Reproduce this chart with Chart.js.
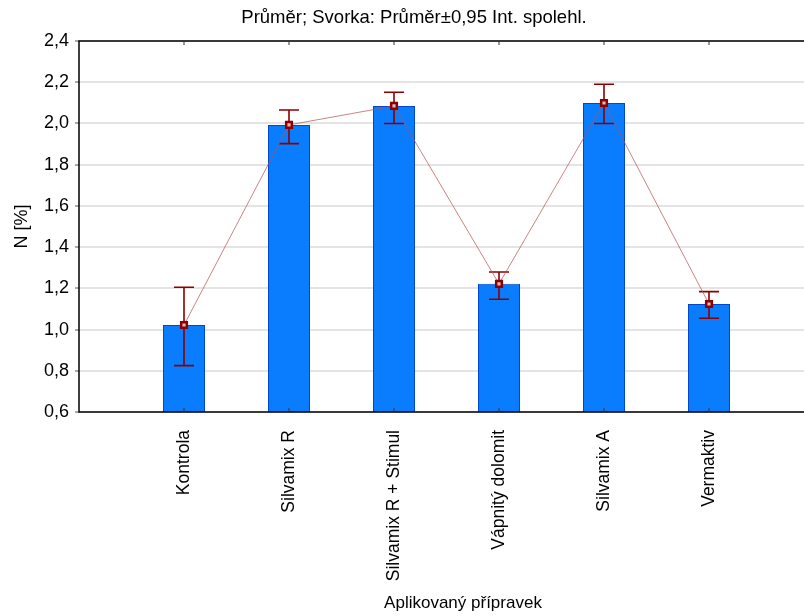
<!DOCTYPE html>
<html>
<head>
<meta charset="utf-8">
<script src="https://cdn.jsdelivr.net/npm/chart.js@4.4.1/dist/chart.umd.min.js"></script>
<style>
  html, body { margin: 0; padding: 0; background: #fff; overflow: hidden; }
  #wrap { width: 900px; height: 616px; }
</style>
</head>
<body>
<div id="wrap"><canvas id="myChart" width="900" height="616"></canvas></div>
<script>
// data (empty slot at both ends, like the original axis)
var categories = ['', 'Kontrola', 'Silvamix R', 'Silvamix R + Stimul', 'Vápnitý dolomit', 'Silvamix A', 'Vermaktiv', ''];
var means  = [null, 1.022, 1.993, 2.085, 1.222, 2.099, 1.124, null];
var ciLow  = [null, 0.825, 1.902, 2.000, 1.147, 2.000, 1.055, null];
var ciHigh = [null, 1.205, 2.065, 2.151, 1.279, 2.190, 1.184, null];
var yTicks = [0.6, 0.8, 1.0, 1.2, 1.4, 1.6, 1.8, 2.0, 2.2, 2.4];

var chartTitle = 'Průměr; Svorka: Průměr±0,95 Int. spolehl.';
var xTitle = 'Aplikovaný přípravek';
var yTitle = 'N [%]';

var fontName = '"Liberation Sans", Arial, sans-serif';

var chromePlugin = {
    id: 'chrome',
    beforeDatasetDraw: function (chart, args) {
        // error bars go under the line markers
        if (args.index !== 1) return;
        var ctx = chart.ctx;
        var ys = chart.scales.y;
        var meta = chart.getDatasetMeta(1);
        ctx.save();
        ctx.strokeStyle = '#8b0000';
        ctx.lineWidth = 1.6;
        for (var i = 0; i < means.length; i++) {
            if (means[i] == null) continue;
            var x = meta.data[i].x;
            var yl = ys.getPixelForValue(ciLow[i]);
            var yh = ys.getPixelForValue(ciHigh[i]);
            ctx.beginPath();
            ctx.moveTo(x, yl); ctx.lineTo(x, yh);
            ctx.moveTo(x - 10, yl); ctx.lineTo(x + 10, yl);
            ctx.moveTo(x - 10, yh); ctx.lineTo(x + 10, yh);
            ctx.stroke();
        }
        ctx.restore();
    },
    afterDraw: function (chart) {
        var ctx = chart.ctx;
        var a = chart.chartArea;
        var xs = chart.scales.x;
        ctx.save();
        // frame
        ctx.strokeStyle = '#000';
        ctx.lineWidth = 1.5;
        ctx.strokeRect(a.left, a.top, a.right - a.left, a.bottom - a.top);
        // inner ticks top and bottom
        ctx.lineWidth = 1;
        ctx.strokeStyle = '#333';
        ctx.beginPath();
        for (var i = 1; i < categories.length - 1; i++) {
            var x = xs.getPixelForValue(i);
            ctx.moveTo(x, a.top); ctx.lineTo(x, a.top + 4);
            ctx.moveTo(x, a.bottom); ctx.lineTo(x, a.bottom - 4);
        }
        ctx.stroke();
        // titles
        ctx.fillStyle = '#000';
        ctx.textAlign = 'center';
        ctx.textBaseline = 'middle';
        ctx.font = '18.5px ' + fontName;
        ctx.fillText(chartTitle, 414, 18);
        ctx.font = '17px ' + fontName;
        ctx.fillText(xTitle, 463, 603);
        ctx.restore();
    }
};

var ctx = document.getElementById('myChart').getContext('2d');
var myChart = new Chart(ctx, {
    type: 'bar',
    data: {
        labels: categories,
        datasets: [{
            type: 'bar',
            label: 'Průměr',
            data: means,
            backgroundColor: '#0a7dff',
            borderColor: '#0048c8',
            borderWidth: 1,
            barPercentage: 0.4,
            categoryPercentage: 1,
            order: 2
        }, {
            type: 'line',
            label: 'Průměr',
            data: means,
            borderColor: 'rgba(180, 80, 80, 0.7)',
            borderWidth: 1,
            pointStyle: 'rect',
            pointRadius: 4,
            pointBackgroundColor: '#e9b4b4',
            pointBorderColor: '#8b0000',
            pointBorderWidth: 2.5,
            order: 1
        }]
    },
    options: {
        responsive: false,
        animation: false,
        layout: { padding: { top: 41, right: 86, bottom: 0, left: 0 } },
        plugins: {
            legend: { display: false },
            tooltip: { enabled: false },
            title: { display: false }
        },
        scales: {
            x: {
                type: 'category',
                offset: false,
                grid: { display: false },
                border: { display: false },
                ticks: {
                    autoSkip: false,
                    minRotation: 90,
                    maxRotation: 90,
                    padding: 10,
                    color: '#000',
                    font: { family: fontName, size: 17.5 }
                },
                afterFit: function (scale) { scale.height = 204; }
            },
            y: {
                min: 0.6,
                max: 2.4,
                afterBuildTicks: function (scale) {
                    scale.ticks = yTicks.map(function (v) { return { value: v }; });
                },
                grid: {
                    color: '#e4e4e4',
                    lineWidth: 2,
                    tickColor: '#555',
                    tickLength: 4,
                    tickWidth: 1
                },
                border: { display: false },
                ticks: {
                    padding: 6,
                    color: '#000',
                    font: { family: fontName, size: 18 },
                    callback: function (v) { return v.toFixed(1).replace('.', ','); }
                },
                title: {
                    display: true,
                    text: yTitle,
                    color: '#000',
                    font: { family: fontName, size: 18 },
                    padding: { top: 11, bottom: 0 }
                },
                afterFit: function (scale) { scale.width = 79; }
            }
        }
    },
    plugins: [chromePlugin]
});
</script>
</body>
</html>
